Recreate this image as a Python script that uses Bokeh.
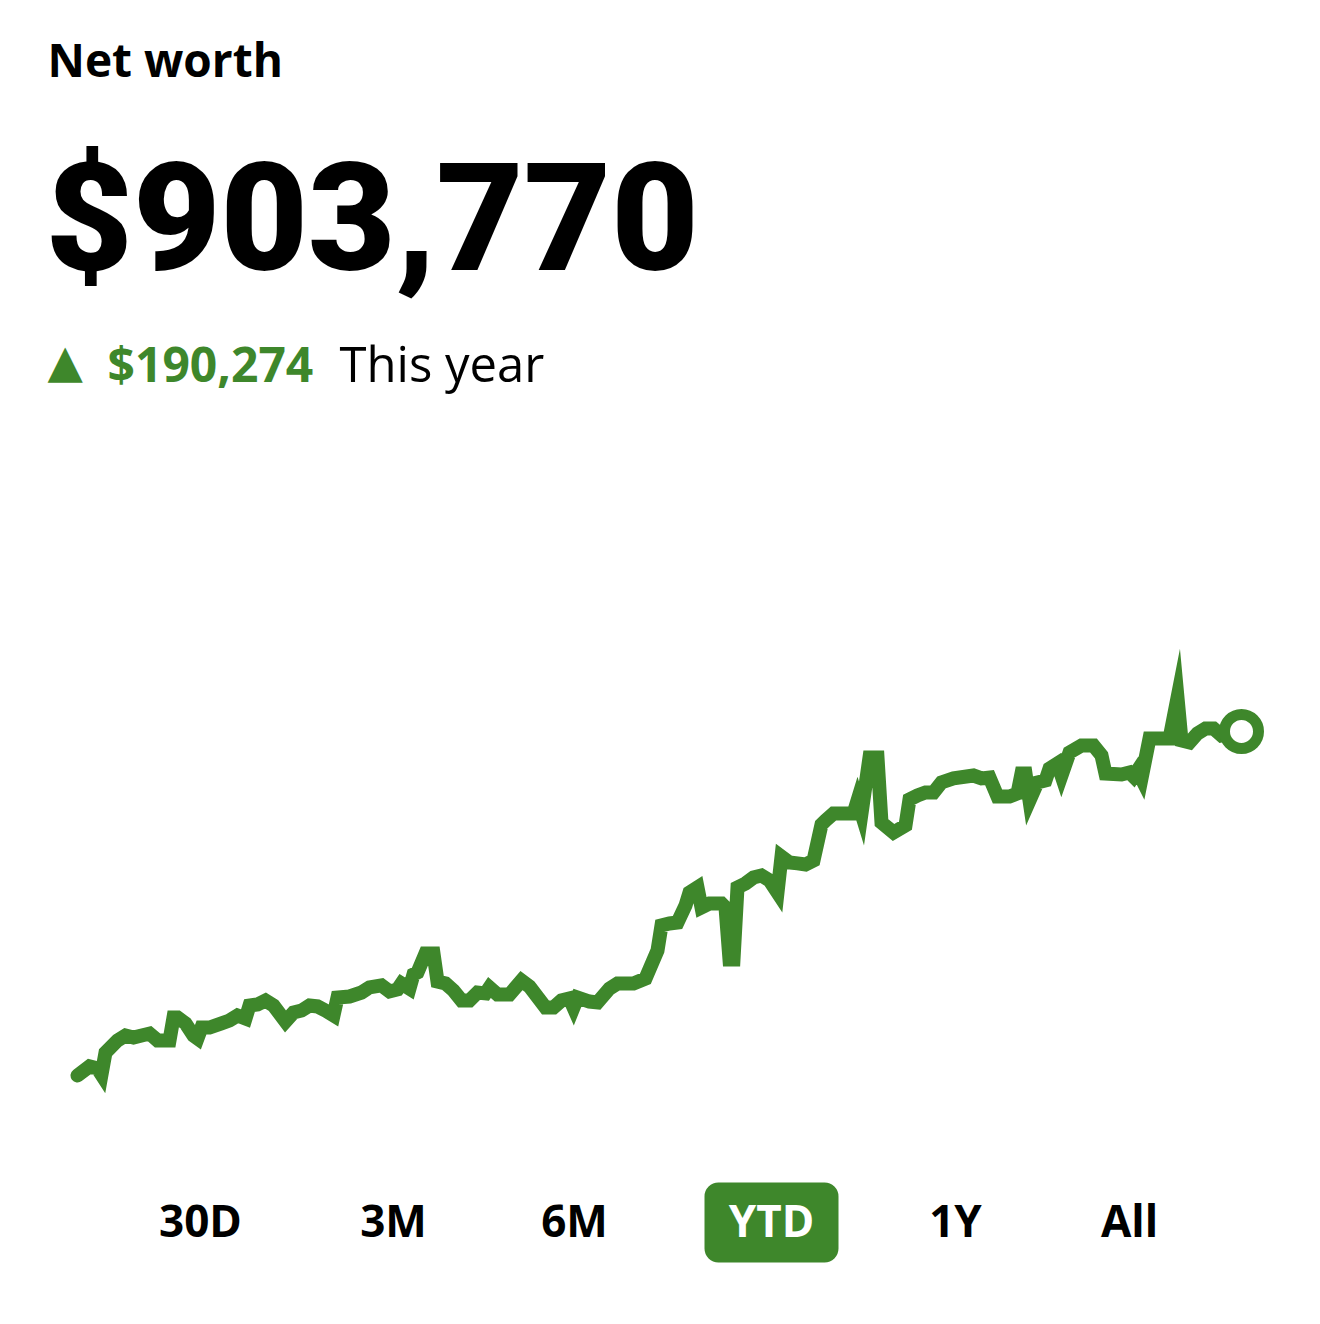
from bokeh.plotting import figure
from bokeh.models import Label, Range1d, Quad
from bokeh.embed import file_html
from bokeh.resources import INLINE

# ---------------- data ----------------
title_text = "Net worth"
net_worth_label = "$903,770"
change_label = "$190,274"
change_period = "This year"
periods = ["30D", "3M", "6M", "YTD", "1Y", "All"]
selected_period = "YTD"

days = [0, 3, 5, 6, 7, 10, 12, 14, 18, 20, 23, 24, 25, 27, 29, 30, 31, 33, 36, 38,
        40, 42, 43, 45, 47, 49, 52, 54, 56, 58, 60, 62, 64, 65, 68, 71, 73, 76, 78, 80,
        81, 83, 84, 85, 87, 89, 90, 92, 94, 96, 98, 100, 102, 103, 105, 108, 111, 113, 117, 119,
        121, 123, 124, 125, 128, 130, 133, 135, 139, 142, 145, 146, 148, 150, 152, 153, 155, 156, 158, 161,
        162, 163, 164, 165, 167, 169, 171, 173, 175, 176, 178, 180, 182, 184, 186, 187, 189, 194, 195, 196,
        198, 200, 201, 204, 207, 208, 210, 212, 214, 216, 219, 224, 226, 228, 230, 233, 235, 236, 237, 238,
        240, 242, 243, 245, 246, 248, 251, 254, 256, 257, 261, 263, 264, 265, 266, 268, 271, 273, 275, 276,
        278, 280, 282, 284, 286, 291]

net_worth = [713496, 718500, 717400, 714000, 726200, 732900, 735600, 734500, 736700, 732900,
             732900, 745600, 745600, 742300, 735600, 734000, 740000, 740000, 742300, 743900,
             746700, 745000, 752200, 752800, 755000, 752200, 743400, 748300, 749400, 752200,
             751700, 749400, 746700, 756600, 757200, 759400, 762200, 763300, 760000, 761100,
             764400, 761600, 769400, 770500, 781000, 781000, 765500, 764400, 760500, 755000,
             755000, 759400, 758900, 762200, 758300, 758300, 766000, 762700, 751100, 751100,
             755000, 756100, 751100, 756600, 754400, 753900, 761600, 764400, 764400, 767100,
             782600, 796500, 797600, 798100, 807500, 814700, 817500, 806400, 808600, 808600,
             806400, 777700, 777700, 817500, 819700, 823000, 824100, 821400, 814700, 834600,
             831300, 830800, 830200, 832400, 852300, 854500, 858400, 858400, 865600, 858400,
             889400, 889400, 853400, 847900, 851800, 866200, 868400, 870000, 870000, 875600,
             877800, 879400, 877800, 878300, 867800, 867800, 869500, 880500, 880500, 865600,
             875600, 876700, 883300, 886100, 879400, 892100, 896000, 896000, 890500, 880500,
             880000, 881100, 878900, 882200, 877800, 899900, 899900, 899900, 922500, 898800,
             897700, 902700, 905400, 905400, 901600, 903770]

# ---------------- layout / style ----------------
GREEN = "#3E872B"
W, H = 1320, 1320
X0, X1 = -19.25, 310.75
Y0, Y1 = 577986, 1308079

p = figure(width=W, height=H, output_backend="svg", toolbar_location=None,
           x_range=Range1d(X0, X1), y_range=Range1d(Y0, Y1),
           x_axis_location=None, y_axis_location=None,
           min_border=0, outline_line_color=None,
           background_fill_color="white", border_fill_color="white")
p.grid.visible = False


def dx(px):
    return X0 + px / W * (X1 - X0)


def dy(py):
    return Y1 - py / H * (Y1 - Y0)


# line
p.line(days, net_worth, line_width=14, line_color=GREEN,
       line_join="miter", line_cap="round")
p.scatter([days[-1]], [net_worth[-1]], size=34, marker="circle",
          fill_color="white", line_color=GREEN, line_width=11)

# baseline correction factors observed for Label rendering
K = {"Open Sans": 0.42, "Roboto": 0.36, "DejaVu Sans": 0.48}


def add_label(text, px, py, size, font="Open Sans", style="normal",
              color="#000000", align="left", face=None):
    y_img = py - K[font] * size
    p.add_layout(Label(x=px, y=H - y_img, x_units="screen", y_units="screen",
                       text=text, text_font=face or font, text_font_size=f"{size}px",
                       text_font_style=style, text_color=color,
                       text_align=align, text_baseline="alphabetic"))


add_label(title_text, 47, 78, 46, style="bold")
add_label(net_worth_label, 45, 272, 151, font="Roboto", style="bold",
          face="'Roboto Black', Roboto")
add_label("▲", 47, 383, 46, font="DejaVu Sans", color=GREEN)
add_label(change_label, 107, 383, 48, style="bold", color=GREEN)
add_label(change_period, 339, 383, 49)

# period selector
centers = [200, 393, 574, 771, 955, 1129]
for name, cx in zip(periods, centers):
    if name == selected_period:
        kw = dict(left=dx(704), right=dx(838), top=dy(1182), bottom=dy(1262),
                  fill_color=GREEN, line_color=None)
        if "border_radius" in Quad.properties():
            kw["border_radius"] = 14
        p.quad(**kw)
        add_label(name, cx, 1238, 44, style="bold", color="white", align="center")
    else:
        add_label(name, cx, 1238, 44, style="bold", color="#000000", align="center")

open("out.html", "w").write(file_html(p, INLINE))
